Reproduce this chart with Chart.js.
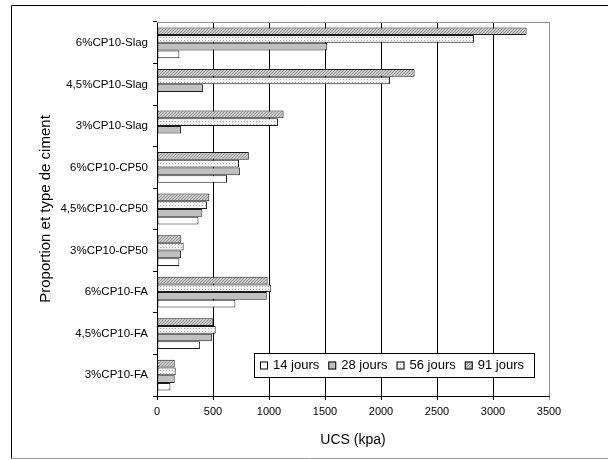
<!DOCTYPE html>
<html>
<head>
<meta charset="utf-8">
<script src="https://cdn.jsdelivr.net/npm/chart.js@4"></script>
<style>
  html, body { margin: 0; padding: 0; background: #fff; }
</style>
</head>
<body>
<canvas id="myChart" width="608" height="460"></canvas>
<script>
// categories, top to bottom as in the picture
let categories = [
  "6%CP10-Slag", "4,5%CP10-Slag", "3%CP10-Slag",
  "6%CP10-CP50", "4,5%CP10-CP50", "3%CP10-CP50",
  "6%CP10-FA", "4,5%CP10-FA", "3%CP10-FA"
];

// UCS (kpa) for each curing time
let jours14 = [200, null, null, 625, 370, 200, 700, 385, 120];
let jours28 = [1520, 410, 215, 740, 405, 215, 980, 490, 158];
let jours56 = [2830, 2080, 1080, 732, 446, 238, 1020, 524, 167];
let jours91 = [3300, 2300, 1130, 820, 467, 217, 988, 503, 158];

let seriesNames = ["14 jours", "28 jours", "56 jours", "91 jours"];
let xTicks = [0, 500, 1000, 1500, 2000, 2500, 3000, 3500];

let font = "'Liberation Sans', Arial, sans-serif";

// fill patterns like the old excel ones
function makePattern(size, bg, fg, pixels) {
  let c = document.createElement("canvas");
  c.width = size;
  c.height = size;
  let g = c.getContext("2d");
  g.fillStyle = bg;
  g.fillRect(0, 0, size, size);
  g.fillStyle = fg;
  pixels.forEach(p => g.fillRect(p[0], p[1], 1, 1));
  return g.createPattern(c, "repeat");
}
let ctx = document.getElementById("myChart").getContext("2d");
let hatch = makePattern(3, "#cacaca", "#969696", [[0, 2], [1, 1], [2, 0]]);
let dots = makePattern(3, "#f2f2f2", "#b0b0b0", [[1, 1]]);

let frame = {
  id: "frame",
  beforeDraw(chart) {
    let c = chart.ctx;
    c.save();
    c.fillStyle = "#fff";
    c.fillRect(0, 0, chart.width, chart.height);
    c.lineWidth = 1;
    c.strokeStyle = "#000";
    c.beginPath();
    c.moveTo(11.5, 459);
    c.lineTo(11.5, 5.5);
    c.lineTo(608, 5.5);
    c.stroke();
    c.strokeStyle = "#9a9a9a";
    c.beginPath();
    c.moveTo(11, 458.5);
    c.lineTo(608, 458.5);
    c.stroke();
    c.restore();
  },
  beforeDatasetsDraw(chart) {
    let a = chart.chartArea;
    let c = chart.ctx;
    c.save();
    c.strokeStyle = "#909090";
    c.lineWidth = 1;
    c.beginPath();
    c.moveTo(a.left, a.top + 0.5);
    c.lineTo(a.right, a.top + 0.5);
    c.stroke();
    c.restore();
  },
  afterDraw(chart) {
    // legend box inside the plot
    let c = chart.ctx;
    let sets = chart.data.datasets.slice().reverse();
    let left = 254, top = 353, w = 280, h = 24;
    c.save();
    c.fillStyle = "#fff";
    c.fillRect(left, top, w, h);
    c.strokeStyle = "#000";
    c.lineWidth = 1;
    c.strokeRect(left + 0.5, top + 0.5, w, h);
    c.font = "13px " + font;
    c.textBaseline = "middle";
    let x = left + 6;
    let cy = top + h / 2 + 0.5;
    sets.forEach(ds => {
      c.fillStyle = ds.backgroundColor;
      c.fillRect(x, cy - 4, 8, 8);
      c.strokeStyle = "#000";
      c.strokeRect(x + 0.5, cy - 3.5, 7, 7);
      x += 13;
      c.fillStyle = "#000";
      c.fillText(ds.label, x, cy);
      x += c.measureText(ds.label).width + 9;
    });
    c.restore();
  }
};

let barChart = new Chart(ctx, {
  type: "bar",
  data: {
    labels: categories,
    datasets: [
      { label: seriesNames[3], data: jours91, backgroundColor: hatch },
      { label: seriesNames[2], data: jours56, backgroundColor: dots },
      { label: seriesNames[1], data: jours28, backgroundColor: "#c0c0c0" },
      { label: seriesNames[0], data: jours14, backgroundColor: "#ffffff" }
    ].map(d => Object.assign(d, {
      borderColor: "#1a1a1a",
      borderWidth: 1,
      borderSkipped: false,
      categoryPercentage: 0.74,
      barPercentage: 1
    }))
  },
  options: {
    indexAxis: "y",
    responsive: false,
    animation: false,
    devicePixelRatio: 1,
    layout: { padding: { top: 22, right: 59, bottom: 0, left: 0 } },
    plugins: {
      legend: { display: false },
      tooltip: { enabled: false }
    },
    scales: {
      x: {
        min: 0,
        max: 3500,
        afterBuildTicks: axis => { axis.ticks = xTicks.map(v => ({ value: v })); },
        afterFit: axis => { axis.height = 64; },
        ticks: {
          color: "#000",
          font: { family: font, size: 11 },
          padding: 5,
          callback: v => String(v)
        },
        grid: {
          color: c => (c.tick && c.tick.value === 3500 ? "#909090" : "#000"),
          tickLength: 4
        },
        border: { color: "#000" },
        title: {
          display: true,
          text: "UCS (kpa)",
          color: "#000",
          font: { family: font, size: 14 },
          padding: { top: 0, bottom: 11 }
        }
      },
      y: {
        afterFit: axis => { axis.width = 157; },
        ticks: { color: "#000", font: { family: font, size: 11.5 }, padding: 5 },
        grid: { drawOnChartArea: false, tickLength: 4, color: "#000", offset: true },
        border: { color: "#000" },
        title: {
          display: true,
          text: "Proportion et type de ciment",
          color: "#000",
          font: { family: font, size: 15 },
          padding: { top: 37, bottom: 0 }
        }
      }
    }
  },
  plugins: [frame]
});
</script>
</body>
</html>
